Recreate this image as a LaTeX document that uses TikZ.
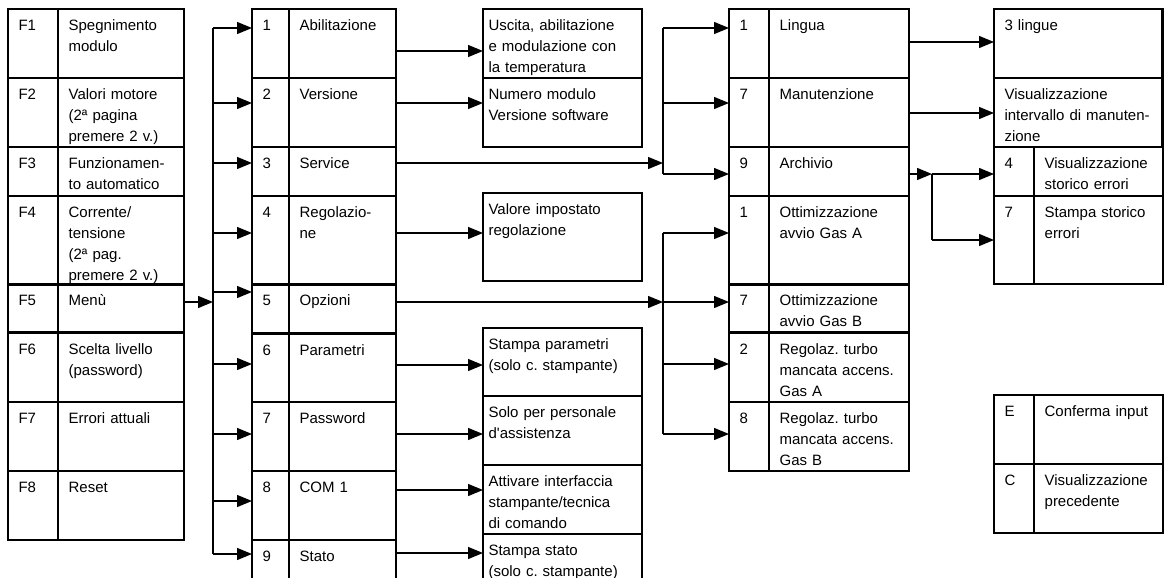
\documentclass[tikz,border=0pt]{standalone}
\usepackage{fontspec}
\setmainfont{Liberation Sans}
\usetikzlibrary{positioning,arrows.meta}
\newcommand\cellfont{\fontsize{15}{21}\selectfont}
\frenchspacing
\tikzset{
	cell/.style 2 args={draw, line width=1.1pt, inner xsep=10pt, inner ysep=0pt,
		text width=#1pt-20pt, text height=21pt, text depth=#2pt-21pt,
		align=left, font=\cellfont},
	desc/.style 2 args={cell={#1}{#2}, inner xsep=5pt, text width=#1pt-10pt},
	frame/.style={line width=2pt},
	bus/.style={line width=1.8pt},
	arr/.style={line width=1.3pt, -{Triangle[length=15pt,width=12pt]}},
}

\begin{document}
\begin{tikzpicture}[x=1pt,y=-1pt]
	\useasboundingbox (0,0) rectangle (1165,578);

	% function keys
	\node[cell={49}{68}, anchor=north west] (f1k) at (8,9) {F1};
	\node[cell={125}{68}, right=0pt of f1k] (f1) {Spegnimento\\modulo};
	\node[cell={49}{68}, below=0pt of f1k] (f2k) {F2};
	\node[cell={125}{68}, right=0pt of f2k] (f2) {Valori motore\\(2ª pagina\\premere 2 v.)};
	\node[cell={49}{48}, below=0pt of f2k] (f3k) {F3};
	\node[cell={125}{48}, right=0pt of f3k] (f3) {Funzionamen-\\to automatico};
	\node[cell={49}{87}, below=0pt of f3k] (f4k) {F4};
	\node[cell={125}{87}, right=0pt of f4k] (f4) {Corrente/\\tensione\\(2ª pag.\\premere 2 v.)};
	\node[cell={49}{47}, below=0pt of f4k] (f5k) {F5};
	\node[cell={125}{47}, right=0pt of f5k] (f5) {Menù};
	\node[cell={49}{68}, below=0pt of f5k] (f6k) {F6};
	\node[cell={125}{68}, right=0pt of f6k] (f6) {Scelta livello\\(password)};
	\node[cell={49}{68}, below=0pt of f6k] (f7k) {F7};
	\node[cell={125}{68}, right=0pt of f7k] (f7) {Errori attuali};
	\node[cell={49}{68}, below=0pt of f7k] (f8k) {F8};
	\node[cell={125}{68}, right=0pt of f8k] (f8) {Reset};
	\draw[frame] (f1k.north west) rectangle (f8.south east);

	% menu
	\node[cell={36}{68}, anchor=north west] (m1k) at (252,9) {1};
	\node[cell={106}{68}, right=0pt of m1k] (m1) {Abilitazione};
	\node[cell={36}{68}, below=0pt of m1k] (m2k) {2};
	\node[cell={106}{68}, right=0pt of m2k] (m2) {Versione};
	\node[cell={36}{48}, below=0pt of m2k] (m3k) {3};
	\node[cell={106}{48}, right=0pt of m3k] (m3) {Service};
	\node[cell={36}{87}, below=0pt of m3k] (m4k) {4};
	\node[cell={106}{87}, right=0pt of m4k] (m4) {Regolazio-\\ne};
	\node[cell={36}{48}, below=0pt of m4k] (m5k) {5};
	\node[cell={106}{48}, right=0pt of m5k] (m5) {Opzioni};
	\node[cell={36}{67}, below=0pt of m5k] (m6k) {6};
	\node[cell={106}{67}, right=0pt of m6k] (m6) {Parametri};
	\node[cell={36}{68}, below=0pt of m6k] (m7k) {7};
	\node[cell={106}{68}, right=0pt of m7k] (m7) {Password};
	\node[cell={36}{68}, below=0pt of m7k] (m8k) {8};
	\node[cell={106}{68}, right=0pt of m8k] (m8) {COM 1};
	\node[cell={36}{45}, below=0pt of m8k] (m9k) {9};
	\node[cell={106}{45}, right=0pt of m9k] (m9) {Stato};
	\draw[frame] (m1k.north west) rectangle (m9.south east);

	% descriptions
	\node[desc={158}{68}, anchor=north west] (d1) at (483,9) {Uscita, abilitazione\\e modulazione con\\la temperatura};
	\node[desc={158}{68}, below=0pt of d1] (d2) {Numero modulo\\Versione software};
	\draw[frame] (d1.north west) rectangle (d2.south east);
	\node[desc={158}{87}, anchor=north west] (d4) at (483,193) {Valore impostato\\regolazione};
	\draw[frame] (d4.north west) rectangle (d4.south east);
	\node[desc={158}{67}, anchor=north west] (d6) at (483,328) {Stampa parametri\\(solo c. stampante)};
	\node[desc={158}{68}, below=0pt of d6] (d7) {Solo per personale\\d\textquotesingle assistenza};
	\node[desc={158}{68}, below=0pt of d7] (d8) {Attivare interfaccia\\stampante/tecnica\\di comando};
	\node[desc={158}{45}, below=0pt of d8] (d9) {Stampa stato\\(solo c. stampante)};
	\draw[frame] (d6.north west) rectangle (d9.south east);

	% service and options
	\node[cell={39}{68}, anchor=north west] (s1k) at (729,9) {1};
	\node[cell={139}{68}, right=0pt of s1k] (s1) {Lingua};
	\node[cell={39}{68}, below=0pt of s1k] (s2k) {7};
	\node[cell={139}{68}, right=0pt of s2k] (s2) {Manutenzione};
	\node[cell={39}{48}, below=0pt of s2k] (s3k) {9};
	\node[cell={139}{48}, right=0pt of s3k] (s3) {Archivio};
	\node[cell={39}{87}, below=0pt of s3k] (o1k) {1};
	\node[cell={139}{87}, right=0pt of o1k] (o1) {Ottimizzazione\\avvio Gas A};
	\node[cell={39}{47}, below=0pt of o1k] (o2k) {7};
	\node[cell={139}{47}, right=0pt of o2k] (o2) {Ottimizzazione\\avvio Gas B};
	\node[cell={39}{68}, below=0pt of o2k] (o3k) {2};
	\node[cell={139}{68}, right=0pt of o3k] (o3) {Regolaz. turbo\\mancata accens.\\Gas A};
	\node[cell={39}{68}, below=0pt of o3k] (o4k) {8};
	\node[cell={139}{68}, right=0pt of o4k] (o4) {Regolaz. turbo\\mancata accens.\\Gas B};
	\draw[frame] (s1k.north west) rectangle (o4.south east);

	% service details
	\node[cell={167}{68}, anchor=north west] (lng) at (994,9) {3 lingue};
	\node[cell={167}{68}, below=0pt of lng] (man) {Visualizzazione\\intervallo di manuten-\\zione};
	\node[cell={39}{48}, anchor=north west] (a1k) at (man.south west) {4};
	\node[cell={128}{48}, right=0pt of a1k] (a1) {Visualizzazione\\storico errori};
	\node[cell={39}{87}, below=0pt of a1k] (a2k) {7};
	\node[cell={128}{87}, right=0pt of a2k] (a2) {Stampa storico\\errori};
	\draw[frame] (lng.north west) rectangle (a2.south east);

	% keys
	\node[cell={39}{68}, anchor=north west] (ek) at (994,395) {E};
	\node[cell={128}{68}, right=0pt of ek] (ec) {Conferma input};
	\node[cell={39}{68}, below=0pt of ek] (ck) {C};
	\node[cell={128}{68}, right=0pt of ck] (cc) {Visualizzazione\\precedente};
	\draw[frame] (ek.north west) rectangle (cc.south east);

	% menu bus
	\coordinate (busm) at (213,28);
	\coordinate (busmend) at (213,554);
	\draw[bus] (busm) -- (busmend);
	\draw[arr] (f5.east |- 0,302) -- (busm |- 0,302);
	\draw[arr] (busm) -- (m1k.west |- busm);
	\draw[arr] (busm |- 0,103) -- (m2k.west |- 0,103);
	\draw[arr] (busm |- 0,163) -- (m3k.west |- 0,163);
	\draw[arr] (busm |- 0,233) -- (m4k.west |- 0,233);
	\draw[arr] (busm |- 0,292) -- (m5k.west |- 0,292);
	\draw[arr] (busm |- 0,364) -- (m6k.west |- 0,364);
	\draw[arr] (busm |- 0,434) -- (m7k.west |- 0,434);
	\draw[arr] (busm |- 0,501) -- (m8k.west |- 0,501);
	\draw[arr] (busmend) -- (m9k.west |- busmend);

	% menu -> descriptions
	\draw[arr] (m1.east |- 0,51) -- (d1.west |- 0,51);
	\draw[arr] (m2.east |- 0,103) -- (d2.west |- 0,103);
	\draw[arr] (m4.east |- 0,233) -- (d4.west |- 0,233);
	\draw[arr] (m6.east |- 0,365) -- (d6.west |- 0,365);
	\draw[arr] (m7.east |- 0,434) -- (d7.west |- 0,434);
	\draw[arr] (m8.east |- 0,490) -- (d8.west |- 0,490);
	\draw[arr] (m9.east |- 0,553) -- (d9.west |- 0,553);

	% service bus
	\coordinate (buss) at (663,28);
	\coordinate (bussend) at (663,174);
	\draw[arr] (m3.east |- 0,163) -- (buss |- 0,163);
	\draw[bus] (buss) -- (bussend);
	\draw[arr] (buss) -- (s1k.west |- buss);
	\draw[arr] (buss |- 0,103) -- (s2k.west |- 0,103);
	\draw[arr] (bussend) -- (s3k.west |- bussend);

	% options bus
	\coordinate (buso) at (663,233);
	\coordinate (busoend) at (663,434);
	\draw[arr] (m5.east |- 0,302) -- (buso |- 0,302);
	\draw[bus] (buso) -- (busoend);
	\draw[arr] (buso) -- (o1k.west |- buso);
	\draw[arr] (buso |- 0,302) -- (o2k.west |- 0,302);
	\draw[arr] (buso |- 0,364) -- (o3k.west |- 0,364);
	\draw[arr] (busoend) -- (o4k.west |- busoend);

	% service -> details
	\draw[arr] (s1.east |- 0,42) -- (lng.west |- 0,42);
	\draw[arr] (s2.east |- 0,113) -- (man.west |- 0,113);
	\coordinate (busa) at (932,174);
	\coordinate (busaend) at (932,240);
	\draw[arr] (s3.east |- busa) -- (busa);
	\draw[bus] (busa) -- (busaend);
	\draw[arr] (busa) -- (a1k.west |- busa);
	\draw[arr] (busaend) -- (a2k.west |- busaend);
\end{tikzpicture}
\end{document}
